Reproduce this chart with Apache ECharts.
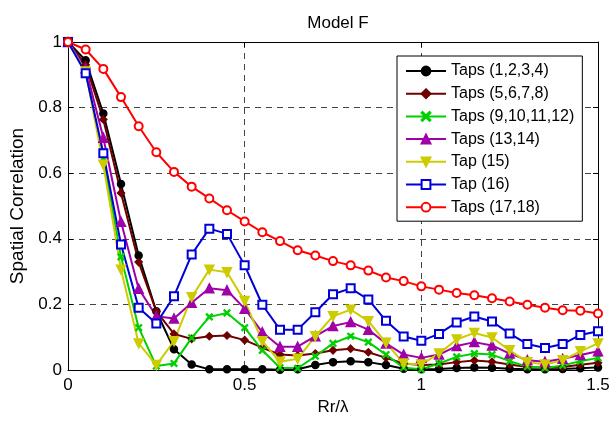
<!DOCTYPE html>
<html>
<head>
<meta charset="utf-8">
<script src="https://cdn.jsdelivr.net/npm/echarts@6/dist/echarts.min.js"></script>
<style>
  html, body { margin: 0; padding: 0; background: #fff; }
  #chart { width: 610px; height: 422px; }
</style>
</head>
<body>
<div id="chart"></div>
<script>
// Normalised antenna separation Rr/lambda, sampled every 0.05
const xValues = [0, 0.05, 0.1, 0.15, 0.2, 0.25, 0.3, 0.35, 0.4, 0.45, 0.5, 0.55, 0.6, 0.65, 0.7, 0.75,
  0.8, 0.85, 0.9, 0.95, 1, 1.05, 1.1, 1.15, 1.2, 1.25, 1.3, 1.35, 1.4, 1.45, 1.5];

const taps1to4 = [1, 0.944, 0.782, 0.567, 0.349, 0.179, 0.063, 0.017, 0.002, 0.002, 0.002, 0.002, 0.001, 0.002, 0.015, 0.024,
  0.027, 0.024, 0.015, 0.004, 0.002, 0.003, 0.006, 0.008, 0.007, 0.004, 0.002, 0.002, 0.003, 0.005, 0.008];
const taps5to8 = [1, 0.931, 0.764, 0.540, 0.329, 0.179, 0.110, 0.095, 0.103, 0.105, 0.091, 0.068, 0.047, 0.044, 0.050, 0.060,
  0.065, 0.054, 0.037, 0.020, 0.015, 0.017, 0.024, 0.029, 0.025, 0.017, 0.009, 0.007, 0.009, 0.016, 0.022];
const taps9to12 = [1, 0.910, 0.645, 0.345, 0.129, 0.012, 0.020, 0.098, 0.162, 0.174, 0.129, 0.060, 0.007, 0.005, 0.042, 0.081,
  0.103, 0.085, 0.047, 0.007, 0.002, 0.020, 0.040, 0.050, 0.047, 0.027, 0.010, 0.006, 0.014, 0.027, 0.037];
const taps13to14 = [1, 0.920, 0.708, 0.452, 0.248, 0.164, 0.157, 0.205, 0.249, 0.243, 0.187, 0.115, 0.071, 0.071, 0.103, 0.134,
  0.146, 0.123, 0.081, 0.047, 0.037, 0.047, 0.073, 0.085, 0.075, 0.050, 0.030, 0.025, 0.034, 0.046, 0.057];
const tap15 = [1, 0.910, 0.626, 0.306, 0.081, 0.015, 0.088, 0.222, 0.306, 0.298, 0.210, 0.088, 0.025, 0.034, 0.103, 0.164,
  0.184, 0.149, 0.083, 0.020, 0.017, 0.050, 0.093, 0.113, 0.099, 0.060, 0.024, 0.017, 0.030, 0.057, 0.081];
const tap16 = [1, 0.905, 0.661, 0.383, 0.190, 0.142, 0.225, 0.352, 0.431, 0.415, 0.319, 0.199, 0.123, 0.123, 0.176, 0.231,
  0.249, 0.215, 0.150, 0.102, 0.089, 0.110, 0.145, 0.163, 0.148, 0.111, 0.079, 0.067, 0.079, 0.107, 0.118];
const taps17to18 = [1, 0.977, 0.918, 0.832, 0.743, 0.664, 0.604, 0.559, 0.523, 0.487, 0.453, 0.420, 0.393, 0.365, 0.349, 0.332,
  0.319, 0.303, 0.282, 0.271, 0.255, 0.245, 0.235, 0.228, 0.219, 0.209, 0.199, 0.190, 0.182, 0.181, 0.172];

const xTicks = [0, 0.5, 1, 1.5];
const yTicks = [0, 0.2, 0.4, 0.6, 0.8, 1];

const FONT = 'Liberation Sans, Arial, sans-serif';
const crossMarker = 'path://M1,0L5,4L9,0L10,1L6,5L10,9L9,10L5,6L1,10L0,9L4,5L0,1Z';
const downTriangle = 'path://M0,0L10,0L5,9Z';

const seriesDefs = [
  { name: 'Taps (1,2,3,4)', values: taps1to4, color: '#000000', symbol: 'circle', size: 7 },
  { name: 'Taps (5,6,7,8)', values: taps5to8, color: '#6e0000', symbol: 'diamond', size: 7 },
  { name: 'Taps (9,10,11,12)', values: taps9to12, color: '#00d000', symbol: crossMarker, size: 6 },
  { name: 'Taps (13,14)', values: taps13to14, color: '#a000a8', symbol: 'triangle', size: 9 },
  { name: 'Tap (15)', values: tap15, color: '#cccc00', symbol: downTriangle, size: 9 },
  { name: 'Tap (16)', values: tap16, color: '#0000d8', symbol: 'emptyRect', size: 8 },
  { name: 'Taps (17,18)', values: taps17to18, color: '#ff0000', symbol: 'emptyCircle', size: 8 }
];

const gridLine = { show: true, lineStyle: { color: '#444', type: [6, 5], width: 1 } };
const boxLine = { show: true, onZero: false, lineStyle: { color: '#000', width: 1 } };
const innerTick = { show: true, inside: true, length: 5, lineStyle: { color: '#000' } };

const chart = echarts.init(document.getElementById('chart'), null, { renderer: 'canvas' });
chart.setOption({
  animation: false,
  backgroundColor: '#fff',
  textStyle: { fontFamily: FONT },
  title: {
    text: 'Model F',
    left: 333, top: 10, textAlign: 'center',
    textStyle: { fontFamily: FONT, fontSize: 17, fontWeight: 'normal', color: '#000' }
  },
  grid: { left: 68, right: 12, top: 42, bottom: 52, outerBoundsMode: 'none' },
  legend: {
    orient: 'vertical',
    left: 397, top: 56,
    padding: [7, 8, 6, 8],
    itemWidth: 40, itemHeight: 11, itemGap: 6.7,
    backgroundColor: '#fff',
    borderColor: '#000', borderWidth: 1,
    textStyle: { fontFamily: FONT, fontSize: 16, color: '#000' },
    data: seriesDefs.map(s => s.name)
  },
  xAxis: [{
    type: 'value', min: 0, max: 1.5, interval: 0.5,
    name: 'Rr/λ', nameLocation: 'middle', nameGap: 25,
    nameTextStyle: { fontFamily: FONT, fontSize: 17, color: '#000' },
    axisLine: boxLine, axisTick: innerTick,
    axisLabel: { fontFamily: FONT, fontSize: 17, color: '#000', margin: 7,
      formatter: v => xTicks.includes(v) ? String(v) : '' },
    splitLine: gridLine
  }, {
    type: 'value', position: 'top', min: 0, max: 1.5, interval: 0.5,
    axisLine: boxLine, axisTick: innerTick, axisLabel: { show: false }, splitLine: { show: false }
  }],
  yAxis: [{
    type: 'value', min: 0, max: 1, interval: 0.2,
    name: 'Spatial Correlation', nameLocation: 'middle', nameGap: 40,
    nameTextStyle: { fontFamily: FONT, fontSize: 19, color: '#000' },
    axisLine: boxLine, axisTick: innerTick,
    axisLabel: { fontFamily: FONT, fontSize: 17, color: '#000', margin: 6,
      formatter: v => yTicks.some(t => Math.abs(t - v) < 1e-9) ? String(Math.round(v * 10) / 10) : '' },
    splitLine: gridLine
  }, {
    type: 'value', position: 'right', min: 0, max: 1, interval: 0.2,
    axisLine: boxLine, axisTick: innerTick, axisLabel: { show: false }, splitLine: { show: false }
  }],
  series: seriesDefs.map(s => ({
    name: s.name,
    type: 'line',
    data: xValues.map((x, i) => [x, s.values[i]]),
    symbol: s.symbol,
    symbolSize: s.size,
    showAllSymbol: true,
    color: s.color,
    lineStyle: { color: s.color, width: 2 },
    itemStyle: { color: s.color, borderColor: s.color, borderWidth: 1.5 },
    clip: false
  }))
});
</script>
</body>
</html>
